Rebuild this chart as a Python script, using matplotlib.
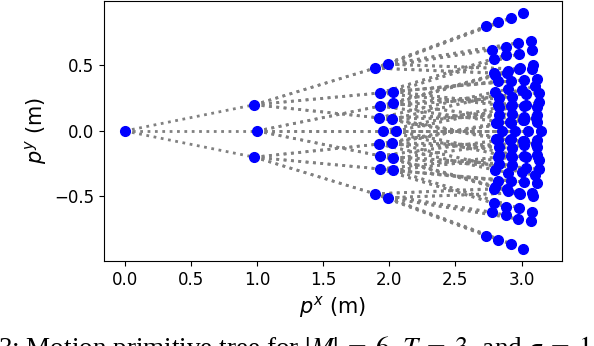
import matplotlib
matplotlib.use('Agg')
import matplotlib.pyplot as plt

# root of the tree
root_x, root_y = 0.0, 0.0

# level 1 nodes
lvl1_x = [0.98, 1.00, 0.98]
lvl1_y = [0.20, 0.00, -0.20]

# level 2 nodes, one row per level 1 parent
lvl2_x = [[1.89, 1.99, 1.93, 2.03, 1.92, 2.02],
          [1.93, 2.03, 1.95, 2.05, 1.93, 2.03],
          [1.92, 2.02, 1.93, 2.03, 1.89, 1.99]]
lvl2_y = [[0.48, 0.51, 0.29, 0.30, 0.10, 0.09],
          [0.19, 0.21, 0.00, 0.00, -0.19, -0.21],
          [-0.10, -0.09, -0.29, -0.30, -0.48, -0.51]]

# level 3 nodes, one row per level 2 parent (same order as above)
lvl3_x = [[2.73, 2.82, 2.78, 2.88, 2.79, 2.89],
          [2.92, 3.01, 2.97, 3.07, 2.98, 3.08],
          [2.79, 2.88, 2.82, 2.92, 2.82, 2.92],
          [2.98, 3.08, 3.02, 3.12, 3.02, 3.12],
          [2.80, 2.90, 2.83, 2.93, 2.81, 2.91],
          [3.00, 3.10, 3.02, 3.12, 3.01, 3.11],
          [2.80, 2.90, 2.83, 2.93, 2.82, 2.92],
          [2.99, 3.09, 3.03, 3.13, 3.02, 3.12],
          [2.83, 2.93, 2.85, 2.95, 2.83, 2.93],
          [3.03, 3.13, 3.05, 3.15, 3.03, 3.13],
          [2.82, 2.92, 2.83, 2.93, 2.80, 2.90],
          [3.02, 3.12, 3.03, 3.13, 2.99, 3.09],
          [2.81, 2.91, 2.83, 2.93, 2.80, 2.90],
          [3.01, 3.11, 3.02, 3.12, 3.00, 3.10],
          [2.82, 2.92, 2.82, 2.92, 2.79, 2.88],
          [3.02, 3.12, 3.02, 3.12, 2.98, 3.08],
          [2.79, 2.89, 2.78, 2.88, 2.73, 2.82],
          [2.98, 3.08, 2.97, 3.07, 2.92, 3.01]]
lvl3_y = [[0.80, 0.83, 0.62, 0.64, 0.44, 0.44],
          [0.86, 0.90, 0.67, 0.69, 0.47, 0.47],
          [0.55, 0.58, 0.38, 0.38, 0.20, 0.19],
          [0.59, 0.62, 0.39, 0.40, 0.19, 0.18],
          [0.30, 0.32, 0.12, 0.13, -0.06, -0.07],
          [0.31, 0.34, 0.11, 0.12, -0.08, -0.10],
          [0.43, 0.46, 0.25, 0.26, 0.07, 0.06],
          [0.48, 0.50, 0.28, 0.29, 0.08, 0.07],
          [0.18, 0.20, 0.00, 0.00, -0.18, -0.20],
          [0.20, 0.22, 0.00, 0.00, -0.20, -0.22],
          [-0.07, -0.06, -0.25, -0.26, -0.43, -0.46],
          [-0.08, -0.07, -0.28, -0.29, -0.48, -0.50],
          [0.06, 0.07, -0.12, -0.13, -0.30, -0.32],
          [0.08, 0.10, -0.11, -0.12, -0.31, -0.34],
          [-0.20, -0.19, -0.38, -0.38, -0.55, -0.58],
          [-0.19, -0.18, -0.39, -0.40, -0.59, -0.62],
          [-0.44, -0.44, -0.62, -0.64, -0.80, -0.83],
          [-0.47, -0.47, -0.67, -0.69, -0.86, -0.90]]

# caption of the page, only its top half is inside the picture
caption = '3: Motion primitive tree for $|M|\\;=\\;6$, $T\\;=\\;3$, and $\\sigma\\;=\\;1$'

plt.rcParams['mathtext.fontset'] = 'stix'
fig = plt.figure(figsize=(5.94, 3.46), dpi=100)
ax = fig.add_axes([0.175, 0.246, 0.771, 0.751])

edge = dict(ls=':', color='gray', lw=2, zorder=1)
dot = dict(ls='none', marker='o', color='blue', ms=7, zorder=2)

# edges parent -> child
for i in range(len(lvl1_x)):
    ax.plot([root_x, lvl1_x[i]], [root_y, lvl1_y[i]], **edge)
lvl2_flat_x, lvl2_flat_y = [], []
for i in range(len(lvl2_x)):
    for x, y in zip(lvl2_x[i], lvl2_y[i]):
        ax.plot([lvl1_x[i], x], [lvl1_y[i], y], **edge)
        lvl2_flat_x.append(x)
        lvl2_flat_y.append(y)
for j in range(len(lvl3_x)):
    for x, y in zip(lvl3_x[j], lvl3_y[j]):
        ax.plot([lvl2_flat_x[j], x], [lvl2_flat_y[j], y], **edge)

# nodes
ax.plot([root_x], [root_y], **dot)
ax.plot(lvl1_x, lvl1_y, **dot)
ax.plot(lvl2_flat_x, lvl2_flat_y, **dot)
for j in range(len(lvl3_x)):
    ax.plot(lvl3_x[j], lvl3_y[j], **dot)

ax.set_xlim(-0.157, 3.305)
ax.set_ylim(-0.992, 0.992)
ax.set_xticks([0, 0.5, 1, 1.5, 2, 2.5, 3])
ax.set_yticks([-0.5, 0, 0.5])
ax.tick_params(labelsize=12)
ax.set_xlabel('$p^x$ (m)', fontsize=15, family='DejaVu Sans', math_fontfamily='dejavusans')
ax.set_ylabel('$p^y$ (m)', fontsize=15, family='DejaVu Sans', math_fontfamily='dejavusans')

fig.text(-0.004, -0.029, caption, family='Liberation Serif', fontsize=19.5, va='baseline', ha='left')

fig.savefig('out.png')
